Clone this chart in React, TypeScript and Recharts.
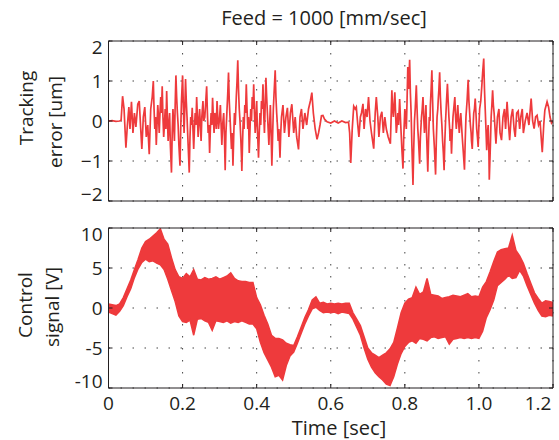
import React from 'react';
import { LineChart, Line, AreaChart, Area, XAxis, YAxis, CartesianGrid } from 'recharts';

const INK = '#231f20';
const RED = '#ee3a3c';
const FONT = '"Open Sans", sans-serif';

const X_TICKS = [0, 0.2, 0.4, 0.6, 0.8, 1.0, 1.2];
const X_TICK_LABELS = ['0', '0.2', '0.4', '0.6', '0.8', '1.0', '1.2'];
const ERR_TICKS = [-2, -1, 0, 1, 2];
const ERR_TICK_LABELS = ['\u22122', '\u22121', '0', '1', '2'];
const CTRL_TICKS = [-10, -5, 0, 5, 10];
const CTRL_TICK_LABELS = ['-10', '-5', '0', '5', '10'];

// tracking error [um] as [time, value]
const ERROR_TRACE: [number, number][] = [
  [0, 0], [0.01, 0.01], [0.02, -0.01], [0.03, 0], [0.034, 0.02], [0.038, 0.62], [0.042, 0.3], [0.047, -0.67],
  [0.051, -0.1], [0.055, 0.35], [0.058, -0.2], [0.062, 0.48], [0.066, -0.3], [0.07, 0.2], [0.074, -0.15],
  [0.079, 0.42], [0.083, 0.5], [0.087, -0.2], [0.09, -0.7], [0.094, 0.1], [0.098, 0.35], [0.102, -0.4],
  [0.106, -0.1], [0.11, -0.83], [0.114, 0.3], [0.118, 0.6],
  [0.121, 1.0], [0.123, 0.3], [0.125, -0.2], [0.127, 0.1], [0.129, -0.6], [0.131, -0.1], [0.133, 0.4],
  [0.135, 0.1], [0.137, -0.3], [0.139, 0.2], [0.141, 0.6], [0.143, 0.2], [0.145, 0.87], [0.147, 0.1],
  [0.149, -0.4], [0.151, -0.1], [0.153, 0.3], [0.155, -0.2], [0.157, 0.75], [0.159, 0.1], [0.161, -0.5],
  [0.163, -0.1], [0.165, 0.2], [0.167, -0.6], [0.17, -1.29], [0.172, -0.3], [0.174, 0.3], [0.176, -0.1],
  [0.178, -0.5], [0.18, 0.4], [0.182, 1.14], [0.184, 0.6], [0.186, 0.2], [0.188, -0.1], [0.19, -0.6],
  [0.193, -1.12], [0.195, -0.2], [0.197, 0.5], [0.2, 1.14], [0.202, 0.4], [0.204, -0.3], [0.206, 0.3],
  [0.208, 1.05], [0.21, 0.5], [0.212, 0.1], [0.215, -0.6], [0.218, -1.29], [0.22, -0.4], [0.222, 0.1],
  [0.224, -0.1], [0.226, 0.33], [0.228, -0.2], [0.23, -0.7], [0.232, -0.2], [0.234, 0.2], [0.236, -0.1],
  [0.238, 0.6], [0.24, 0.1], [0.242, -0.4], [0.244, 0], [0.246, 0.3], [0.248, -0.1], [0.25, -0.5],
  [0.252, 0.1], [0.255, 0.5], [0.257, 0], [0.26, 0.1], [0.262, 0.4], [0.265, 0.87], [0.267, 0.2],
  [0.269, -0.3], [0.271, -0.1], [0.273, -0.8], [0.275, -0.2], [0.277, 0.2], [0.279, -0.1], [0.281, 0.58],
  [0.283, 0.1], [0.285, -0.3], [0.287, 0.2], [0.289, 0.1], [0.291, -0.2], [0.293, 0.5], [0.295, 0.1],
  [0.297, -0.2], [0.3, 0.1], [0.302, 0.4], [0.304, -0.1], [0.306, -0.6], [0.308, -0.1], [0.311, 0.2],
  [0.313, -0.4], [0.315, -1.23], [0.317, -0.3], [0.32, 0.3], [0.322, 0.7], [0.324, 1.21], [0.326, 0.5],
  [0.328, 0.1], [0.33, -0.3], [0.332, -0.7], [0.334, -0.3], [0.336, -1.12], [0.338, -0.4], [0.34, 0.2],
  [0.342, -0.1], [0.345, 0.6], [0.347, 1.0], [0.349, 1.52], [0.351, 0.8], [0.353, 0.3], [0.355, 0],
  [0.357, -0.4], [0.359, -0.9], [0.36, -1.25], [0.362, -0.5], [0.364, 0.1], [0.366, -0.2], [0.368, 0.4],
  [0.37, 0.2], [0.372, 0.92], [0.374, 0.3], [0.376, -0.2], [0.378, 0.1], [0.38, -0.8], [0.382, -0.2],
  [0.384, 0.3], [0.386, 0], [0.388, 0.6], [0.39, 0.3], [0.392, 0.92], [0.394, 0.2], [0.396, -0.3],
  [0.398, 0.1], [0.4, 0.5], [0.402, -0.2], [0.405, -0.92], [0.407, -0.3], [0.409, 0.2], [0.411, -0.1],
  [0.413, 0.5], [0.415, 0.3], [0.417, 0.92], [0.419, 0.2], [0.421, -0.3], [0.423, 0.4], [0.425, 1.08],
  [0.427, 0.6], [0.429, 0.2], [0.431, -0.2], [0.433, -0.6], [0.435, -0.1], [0.437, 0.4], [0.439, -0.3],
  [0.441, -1.12], [0.443, -0.4], [0.445, 0.3], [0.447, 0.7], [0.45, 1.27], [0.452, 0.6], [0.454, 0.2],
  [0.456, -0.1], [0.458, -0.5], [0.46, -0.2], [0.463, -0.92], [0.465, -0.3], [0.467, 0.1],
  [0.471, 0.4], [0.475, -0.3],
  [0.479, 0.1], [0.483, 0.33], [0.487, -0.4], [0.491, 0.2], [0.495, 0.42], [0.5, -0.3], [0.504, 0.1],
  [0.508, -0.4], [0.513, -0.71], [0.517, 0.1], [0.521, 0.3], [0.525, -0.2], [0.53, 0.2], [0.535, -0.1],
  [0.54, 0.3], [0.545, 0.5], [0.549, 0.71], [0.553, 0.2], [0.558, -0.2], [0.563, -0.46], [0.567, -0.3],
  [0.571, -0.1], [0.575, 0.13], [0.579, 0.14], [0.583, 0.05], [0.59, -0.02], [0.6, -0.05], [0.61, 0],
  [0.62, -0.05], [0.63, 0], [0.64, -0.04], [0.648, -0.03], [0.651, -0.3], [0.654, -1.05], [0.658, -0.2],
  [0.662, 0.37], [0.666, 0.3], [0.669, 0.35], [0.673, -0.1], [0.676, -0.4], [0.68, 0.1], [0.683, 0.2],
  [0.687, 0.43], [0.69, -0.2], [0.694, 0.3], [0.698, 0.1], [0.702, 0.6], [0.706, 0], [0.71, -0.3],
  [0.716, -0.69], [0.72, 0.2], [0.723, 0.6], [0.727, 0.1], [0.73, -0.4], [0.734, 0.1], [0.738, 0.23],
  [0.742, -0.3], [0.746, 0.1], [0.75, -0.2], [0.755, -0.4],
  [0.761, -0.57], [0.763, 0.1], [0.765, 0.77], [0.767, 0.3], [0.769, 0.1], [0.771, 0.4], [0.773, 0.72],
  [0.775, 0.2], [0.777, -0.3], [0.779, -0.1], [0.781, 0.2], [0.783, -0.1], [0.786, 0.55], [0.788, 0.1],
  [0.79, -0.3], [0.792, -0.7], [0.795, -1.19], [0.797, -0.4], [0.8, 0.3], [0.802, 0.1], [0.804, -0.2],
  [0.806, 0.5], [0.808, 1.35], [0.81, 0.8], [0.813, 1.53], [0.815, 0.7], [0.817, 0.2], [0.819, -0.6],
  [0.822, -1.6], [0.824, -0.7], [0.826, 0], [0.828, 0.3], [0.831, 0.89], [0.833, 0.3], [0.835, -0.2],
  [0.837, -0.5], [0.84, -1.07], [0.842, -0.4], [0.845, 0.1], [0.847, 0.3], [0.849, 0.6], [0.851, 0.1],
  [0.853, -0.3], [0.855, 0], [0.857, 0.4], [0.859, -0.4], [0.862, -1.27], [0.864, -0.5], [0.866, 0.1],
  [0.868, 0], [0.869, 0.4], [0.871, 0.8], [0.873, 1.27], [0.875, 0.5], [0.877, -0.2], [0.88, -0.7],
  [0.883, -1.34], [0.885, -0.5], [0.887, 0.1], [0.889, 0.3], [0.89, 0.5], [0.892, 0.8], [0.894, 1.22],
  [0.896, 0.6], [0.898, 0.2], [0.9, -0.1], [0.902, -0.5], [0.904, -0.8], [0.906, -1.23], [0.908, -0.5],
  [0.91, 0], [0.912, 0.4], [0.915, 0.93], [0.917, 0.5], [0.919, 0.1], [0.921, -0.2], [0.922, -0.5],
  [0.924, -0.2], [0.926, -0.82], [0.928, -0.3], [0.93, 0.1], [0.932, 0.3], [0.935, 0.6], [0.937, 0.1],
  [0.939, -0.2], [0.941, 0.1], [0.943, 0.4], [0.945, 0], [0.947, -0.3], [0.949, 0], [0.951, 0.2],
  [0.953, -0.1], [0.955, -0.4], [0.958, -0.8], [0.961, -1.22], [0.963, -0.5], [0.965, 0.1], [0.968, 0.5],
  [0.971, 1.03], [0.973, 0.5], [0.975, 0.2], [0.977, -0.1], [0.979, -0.3], [0.98, -0.5], [0.982, -0.7],
  [0.984, -0.2], [0.986, 0.2], [0.988, 0.3], [0.99, 0.56], [0.992, 0.2], [0.994, -0.2], [0.996, -0.4],
  [0.998, -0.65], [1.0, -0.1], [1.002, 0.3], [1.005, 0.5], [1.008, 0.9], [1.01, 1.2], [1.013, 1.56],
  [1.015, 0.8], [1.017, 0.3], [1.019, -0.2], [1.021, -0.73], [1.023, -0.3], [1.025, -0.1], [1.027, -0.8],
  [1.028, -1.47], [1.031, -0.6], [1.033, 0.1], [1.035, 0.4], [1.037, 0.77], [1.039, 0.4], [1.041, 0.2],
  [1.046, -0.57], [1.05, 0.1], [1.054, 0.3], [1.057, -0.3], [1.061, -0.48], [1.065, 0.1],
  [1.069, 0.3], [1.072, -0.2], [1.076, 0.48], [1.08, -0.1], [1.083, -0.48], [1.087, 0.1], [1.091, 0.3],
  [1.095, -0.2], [1.098, -0.4], [1.102, 0.2], [1.106, 0.25], [1.11, -0.2], [1.113, 0.1], [1.117, 0.3],
  [1.12, -0.3], [1.125, 0], [1.13, 0.2], [1.135, -0.1], [1.141, 0.56], [1.145, 0], [1.149, -0.19],
  [1.153, 0.1], [1.157, 0.14], [1.161, -0.1], [1.165, 0], [1.168, -0.4], [1.171, -0.78], [1.175, -0.1],
  [1.178, 0.27], [1.184, 0.48], [1.188, 0.35], [1.192, 0.1], [1.196, -0.05], [1.2, 0],
];

// control signal [V]: the noisy band, upper and lower edge every 10 ms from 0 to 1.2 s
const CTRL_STEP = 0.01;
const CONTROL_UPPER = [
  0.5, 0.4, 0.3, 0.5, 1.3, 2.4, 3.5, 4.8, 6.1, 7.5,
  8.3, 8.6, 9.0, 9.4, 9.9, 8.6, 8.0, 6.3, 4.8, 3.9,
  3.7, 4.3, 3.9, 4.8, 3.6, 3.5, 3.8, 3.6, 3.7, 3.9,
  3.6, 3.8, 4.0, 4.4, 3.7, 3.4, 3.3, 3.3, 3.2, 3.2,
  1.3, 0.4, -0.9, -2.0, -3.4, -3.8, -3.8, -4.0, -4.4, -4.6,
  -4.7, -3.6, -2.4, -1.2, -0.2, 1.0, 1.4, 0.6, 0.7, 0.5,
  0.6, 0.5, 0.6, 0.5, 0.6, 0.6, -0.6, -1.4, -2.2, -3.6,
  -5.0, -5.6, -5.9, -6.2, -5.9, -5.6, -5.1, -4.3, -2.5, -0.6,
  0.6, 1.1, 1.3, 2.6, 1.7, 2.0, 3.7, 1.7, 1.6, 1.5,
  1.2, 1.3, 1.4, 1.6, 1.5, 1.4, 1.6, 1.8, 1.4, 1.5,
  1.4, 2.6, 3.3, 4.5, 5.8, 7.0, 7.3, 7.4, 7.5, 9.1,
  7.2, 6.5, 5.6, 4.3, 3.1, 1.9, 1.2, 0.6, 0.9, 0.8,
  0.7,
];
const CONTROL_LOWER = [
  -0.5, -0.7, -0.9, -0.4, 0.3, 1.4, 2.4, 3.8, 4.9, 5.7,
  6.1, 5.8, 5.9, 5.6, 5.4, 4.8, 3.6, 2.2, 0.8, -1.0,
  -1.7, -1.8, -1.5, -3.4, -1.4, -1.3, -1.6, -1.8, -2.8, -1.6,
  -1.7, -1.8, -1.6, -1.9, -1.7, -1.8, -1.6, -1.8, -2.0, -2.0,
  -2.6, -4.3, -5.6, -6.5, -7.4, -8.6, -8.4, -9.0, -7.2, -6.0,
  -5.5, -4.4, -3.2, -2.0, -1.0, -0.1, 0.1, -0.3, -0.6, -0.5,
  -0.6, -0.5, -0.7, -0.5, -0.6, -0.7, -1.4, -2.4, -3.4, -5.0,
  -6.4, -7.4, -8.1, -8.6, -9.0, -9.5, -9.7, -8.6, -7.0, -5.7,
  -4.8, -4.3, -4.1, -4.4, -3.8, -3.9, -4.1, -3.7, -3.6, -3.8,
  -3.7, -3.6, -4.5, -3.9, -3.8, -3.7, -3.8, -3.7, -3.8, -3.7,
  -3.8, -2.9, -1.2, -0.2, 1.0, 2.8, 3.2, 3.6, 4.1, 3.7,
  3.8, 4.7, 4.0, 2.8, 1.7, 0.6, -0.3, -1.0, -1.1, -0.9,
  -1.0,
];

const errorData = ERROR_TRACE.map(([t, v]) => ({ t, v }));
const controlData = CONTROL_UPPER.map((hi, i) => ({
  t: Math.round(i * CTRL_STEP * 1000) / 1000,
  band: [CONTROL_LOWER[i], hi],
}));

const textStyle = { fill: INK, fontSize: 19, fontFamily: FONT };

// y labels: the end labels sit a little inside the box, like the original
const makeYTick = (ticks: number[], labels: string[]) => (props: any) => {
  const i = ticks.indexOf(props.payload.value);
  const shift = i === 0 ? -7 : i === ticks.length - 1 ? 6 : 0;
  return (
    <text x={props.x} y={props.y + shift} textAnchor="end" dominantBaseline="central" {...textStyle}>
      {labels[i]}
    </text>
  );
};

const XTick = (props: any) => {
  const i = X_TICKS.indexOf(props.payload.value);
  const shift = i === X_TICKS.length - 1 ? -11 : 0;
  return (
    <text x={props.x + shift} y={props.y} textAnchor="middle" dominantBaseline="central" {...textStyle}>
      {X_TICK_LABELS[i]}
    </text>
  );
};

const noTick = () => <g />;

// box around the plot: four axes with short inward ticks
const frameAxes = (yTicks: number[], yLabels: string[], showX: boolean) => [
  <XAxis
    key="xb"
    xAxisId={0}
    dataKey="t"
    type="number"
    domain={[0, 1.2]}
    ticks={X_TICKS}
    height={1}
    tickSize={-4}
    tickMargin={19}
    stroke={INK}
    tick={showX ? XTick : noTick}
    allowDataOverflow
  />,
  <XAxis
    key="xt"
    xAxisId="top"
    orientation="top"
    dataKey="t"
    type="number"
    domain={[0, 1.2]}
    ticks={X_TICKS}
    height={1}
    tickSize={-4}
    stroke={INK}
    tick={noTick}
    allowDataOverflow
  />,
  <YAxis
    key="yl"
    yAxisId={0}
    type="number"
    domain={[yTicks[0], yTicks[yTicks.length - 1]]}
    ticks={yTicks}
    width={40}
    tickSize={-4}
    tickMargin={10}
    stroke={INK}
    tick={makeYTick(yTicks, yLabels)}
    allowDataOverflow
  />,
  <YAxis
    key="yr"
    yAxisId="right"
    orientation="right"
    type="number"
    domain={[yTicks[0], yTicks[yTicks.length - 1]]}
    ticks={yTicks}
    width={1}
    tickSize={-4}
    stroke={INK}
    tick={noTick}
    allowDataOverflow
  />,
];

const grid = <CartesianGrid stroke="#444" strokeWidth={1} strokeDasharray="1.5 10.5" />;

export default function App() {
  return (
    <div style={{ position: 'absolute', left: 0, top: 0, width: 559, height: 440, background: '#fff' }}>
      <div style={{ position: 'absolute', left: 0, top: 0 }}>
        <LineChart width={559} height={215} data={errorData} margin={{ top: 40, right: 5, bottom: 13, left: 68.5 }}>
          {grid}
          {frameAxes(ERR_TICKS, ERR_TICK_LABELS, false)}
          <Line
            dataKey="v"
            type="linear"
            stroke={RED}
            strokeWidth={1.7}
            dot={false}
            isAnimationActive={false}
          />
        </LineChart>
      </div>
      <div style={{ position: 'absolute', left: 0, top: 215 }}>
        <AreaChart width={559} height={225} data={controlData} margin={{ top: 12, right: 5, bottom: 51, left: 68.5 }}>
          {grid}
          {frameAxes(CTRL_TICKS, CTRL_TICK_LABELS, true)}
          <Area
            dataKey="band"
            type="linear"
            stroke={RED}
            strokeWidth={1.5}
            fill={RED}
            fillOpacity={1}
            isAnimationActive={false}
          />
        </AreaChart>
      </div>
      <svg width={559} height={440} style={{ position: 'absolute', left: 0, top: 0, pointerEvents: 'none' }}>
        <text x={324} y={17} textAnchor="middle" dominantBaseline="central" fill={INK} fontSize={20} fontFamily={FONT}>
          Feed = 1000 [mm/sec]
        </text>
        <g fill={INK} fontSize={19} fontFamily={FONT} textAnchor="middle" dominantBaseline="central">
          <text transform="translate(26,108) rotate(-90)">Tracking</text>
          <text transform="translate(55,122) rotate(-90)">error [um]</text>
          <text transform="translate(25,305) rotate(-90)">Control</text>
          <text transform="translate(52,307) rotate(-90)">signal [V]</text>
          <text x={339} y={427} fontSize={20}>Time [sec]</text>
        </g>
      </svg>
    </div>
  );
}
